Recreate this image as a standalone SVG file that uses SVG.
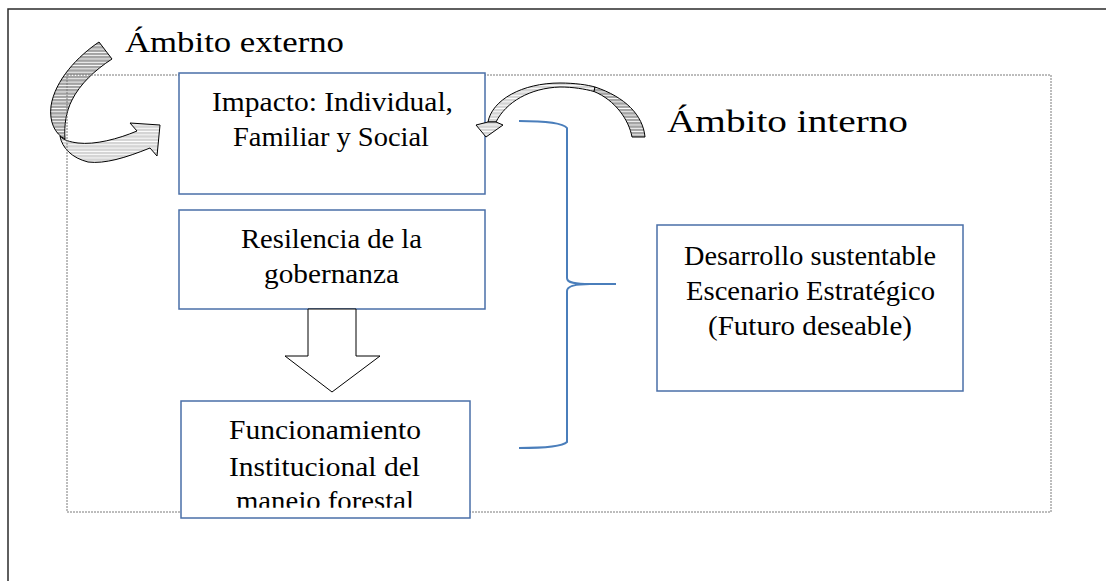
<svg xmlns="http://www.w3.org/2000/svg" width="1106" height="581" viewBox="0 0 1106 581">
<style>
.frame{fill:none;stroke:#2b2b2b;stroke-width:1.5}
.dash{fill:none;stroke:#7a7a7a;stroke-width:1;stroke-dasharray:2 1}
.box{fill:#fff;stroke:#4a6fa8;stroke-width:1.5}
.t{font-family:"Liberation Serif","Times New Roman",serif;font-size:28px;fill:#000}
.lbl{font-family:"Liberation Serif","Times New Roman",serif;fill:#000}
.brace{fill:none;stroke:#4a7ebb;stroke-width:2}
.edge{stroke:#000;stroke-width:1;stroke-linejoin:round}
</style>
<defs>
<pattern id="stD" width="6" height="3.3" patternUnits="userSpaceOnUse"><rect width="6" height="3.3" fill="#a3a3a3"/><rect y="2.4" width="6" height="0.9" fill="#fff"/></pattern>
<pattern id="stL" width="6" height="3.3" patternUnits="userSpaceOnUse"><rect width="6" height="3.3" fill="#d4d4d4"/><rect y="2.4" width="6" height="0.9" fill="#fff"/></pattern>
<clipPath id="clip3"><rect x="180" y="400" width="292" height="107.7"/></clipPath>
</defs>
<rect class="frame" x="8" y="9" width="1200" height="700"/>
<g id="arrow-externo">
<path class="edge" fill="url(#stD)" d="M65,139 C64,125 66,112 72,100 C80,84 95,70 112,59 L99,42 C78,56 55,80 51,106 C49,122 55,134 65,139 Z"/>
<path class="edge" fill="url(#stL)" d="M60,136 C62,148 72,158 88,162 C105,164 125,158 150,148 L157,156 L160,125 L130,123 L137,131 C118,139 95,145 78,143 C70,142 63,140 60,136 Z"/>
</g>
<rect class="dash" x="67" y="75" width="984" height="437"/>
<g id="node-impacto">
<rect class="box" x="179" y="73" width="306" height="121"/>
<text class="t" x="212" y="111" textLength="241" lengthAdjust="spacingAndGlyphs">Impacto: Individual,</text>
<text class="t" x="233" y="146" textLength="196" lengthAdjust="spacingAndGlyphs">Familiar y Social</text>
</g>
<g id="node-resilencia">
<rect class="box" x="179" y="210" width="306" height="99"/>
<text class="t" x="241" y="248" textLength="181" lengthAdjust="spacingAndGlyphs">Resilencia de la</text>
<text class="t" x="264" y="283" textLength="135" lengthAdjust="spacingAndGlyphs">gobernanza</text>
</g>
<g id="node-funcionamiento">
<rect class="box" x="181" y="401" width="289" height="117"/>
<text class="t" x="229" y="439" textLength="192" lengthAdjust="spacingAndGlyphs">Funcionamiento</text>
<text class="t" x="229" y="476" textLength="191" lengthAdjust="spacingAndGlyphs">Institucional del</text>
<text class="t" x="236" y="510" textLength="178" lengthAdjust="spacingAndGlyphs" clip-path="url(#clip3)">manejo forestal</text>
</g>
<g id="node-desarrollo">
<rect class="box" x="657" y="225" width="306" height="166"/>
<text class="t" x="684" y="265" textLength="252" lengthAdjust="spacingAndGlyphs">Desarrollo sustentable</text>
<text class="t" x="686" y="300" textLength="249" lengthAdjust="spacingAndGlyphs">Escenario Estratégico</text>
<text class="t" x="708" y="335" textLength="204" lengthAdjust="spacingAndGlyphs">(Futuro deseable)</text>
</g>
<g id="connectors">
<path class="edge" fill="#fff" d="M308,309 L356,309 L356,356 L380,356 L332,392 L285,356 L308,356 Z"/>
<path class="brace" d="M519,121 C545,121 563,123 567,128 L567,278 C567,283 575,284 590,284 L616,284 M590,284 C575,284 567,286 567,291 L567,442 C563,446 545,448 519,448"/>
<g id="arrow-interno">
<path class="edge" fill="url(#stL)" d="M488,122 C492,100 522,83 560,83 C575,83 588,85 595,87 L594,91.5 C585,89 573,87 560,87 C530,88 506,102 496,122 Z"/>
<path class="edge" fill="url(#stD)" d="M595,87 C625,97 643,115 645,137 L632,137 C629,120 615,100 594,91.5 Z"/>
<path class="edge" fill="url(#stL)" d="M476,125 L488,122 L496,122 L503,125 L486,137 Z"/>
</g>
</g>
<g id="labels">
<text class="lbl" x="125" y="52" font-size="29" textLength="219" lengthAdjust="spacingAndGlyphs">Ámbito externo</text>
<text class="lbl" x="667" y="132" font-size="32" textLength="241" lengthAdjust="spacingAndGlyphs">Ámbito interno</text>
</g>
</svg>
